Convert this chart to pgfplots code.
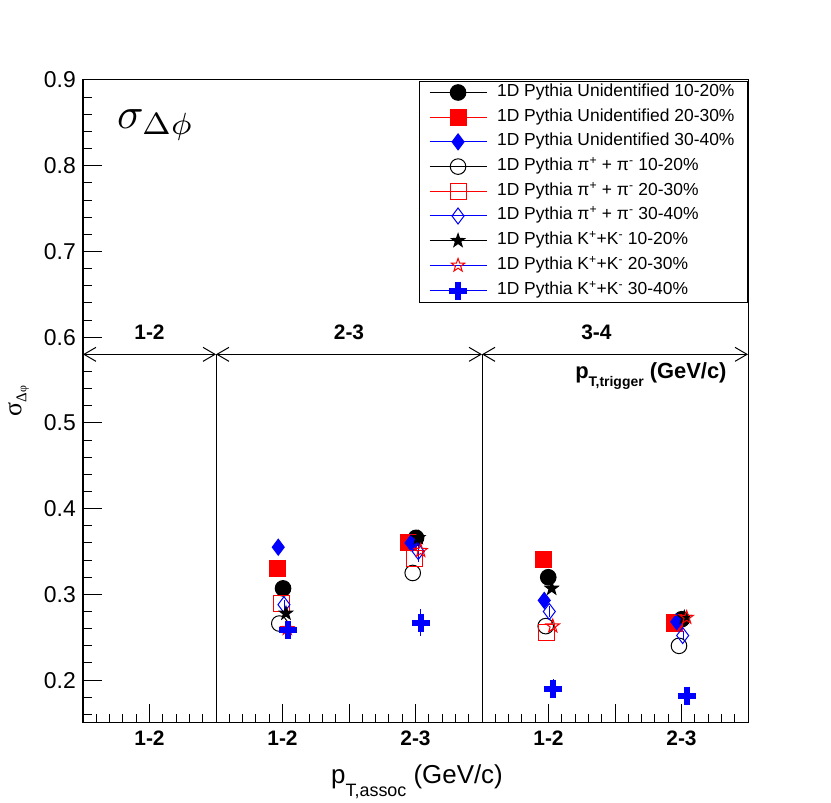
\documentclass[border=0pt]{standalone}
\usepackage[no-math]{fontspec}
\setmainfont{Liberation Sans}
\newfontfamily\grk{Liberation Serif}
\usepackage{pgfplots}
\pgfplotsset{compat=1.18}
\usetikzlibrary{arrows.meta,calc}

\pgfdeclareplotmark{fstar}{%
  \pgfpathmoveto{\pgfpointpolar{90}{\pgfplotmarksize}}%
  \pgfpathlineto{\pgfpointpolar{126}{0.4\pgfplotmarksize}}%
  \pgfpathlineto{\pgfpointpolar{162}{\pgfplotmarksize}}%
  \pgfpathlineto{\pgfpointpolar{198}{0.4\pgfplotmarksize}}%
  \pgfpathlineto{\pgfpointpolar{234}{\pgfplotmarksize}}%
  \pgfpathlineto{\pgfpointpolar{270}{0.4\pgfplotmarksize}}%
  \pgfpathlineto{\pgfpointpolar{306}{\pgfplotmarksize}}%
  \pgfpathlineto{\pgfpointpolar{342}{0.4\pgfplotmarksize}}%
  \pgfpathlineto{\pgfpointpolar{18}{\pgfplotmarksize}}%
  \pgfpathlineto{\pgfpointpolar{54}{0.4\pgfplotmarksize}}%
  \pgfpathclose
  \pgfusepathqfillstroke
}
\pgfdeclareplotmark{ostar}{%
  \pgfpathmoveto{\pgfpointpolar{90}{\pgfplotmarksize}}%
  \pgfpathlineto{\pgfpointpolar{126}{0.4\pgfplotmarksize}}%
  \pgfpathlineto{\pgfpointpolar{162}{\pgfplotmarksize}}%
  \pgfpathlineto{\pgfpointpolar{198}{0.4\pgfplotmarksize}}%
  \pgfpathlineto{\pgfpointpolar{234}{\pgfplotmarksize}}%
  \pgfpathlineto{\pgfpointpolar{270}{0.4\pgfplotmarksize}}%
  \pgfpathlineto{\pgfpointpolar{306}{\pgfplotmarksize}}%
  \pgfpathlineto{\pgfpointpolar{342}{0.4\pgfplotmarksize}}%
  \pgfpathlineto{\pgfpointpolar{18}{\pgfplotmarksize}}%
  \pgfpathlineto{\pgfpointpolar{54}{0.4\pgfplotmarksize}}%
  \pgfpathclose
  \pgfusepathqstroke
}

\begin{document}
\begin{tikzpicture}
\begin{axis}[
  name=ax, at={(0,0)}, anchor=south west,
  scale only axis, width=665bp, height=643bp,
  xmin=0, xmax=5, ymin=0.15, ymax=0.9, clip=false,
  axis line style={line width=1bp},
  tick style={line width=1bp, black},
  major tick length=19bp, minor tick length=9bp,
  tick align=inside, tick pos=left,
  xtick={0,0.5,1,1.5,2,2.5,3,3.5,4,4.5,5},
  xticklabels={,1-2,,1-2,,2-3,,1-2,,2-3,},
  minor xtick={0.1,0.2,...,4.9},
  ytick={0.2,0.3,0.4,0.5,0.6,0.7,0.8,0.9},
  yticklabels={0.2,0.3,0.4,0.5,0.6,0.7,0.8,0.9},
  minor ytick={0.16,0.18,...,0.89},
  yticklabel style={font=\fontsize{23}{26}\selectfont, inner sep=0pt, xshift=-7bp},
  xticklabel style={font=\bfseries\fontsize{21}{24}\selectfont, inner sep=0pt, yshift=-8bp},
  every axis plot/.append style={line width=1bp},
  legend image code/.code={%
    \draw[#1] (0bp,0bp) -- (57bp,0bp);
    \draw[#1, only marks] plot coordinates {(28.5bp,0bp)};
  },
  legend style={at={(1,1)}, anchor=north east, yshift=-1bp, draw=black, line width=1bp, fill=white,
    font=\fontsize{17.5}{20}\selectfont, inner xsep=10bp, inner ysep=2.5bp, row sep=7.7bp, column sep=7bp,
    nodes={inner xsep=3bp, inner ysep=0bp, text height=12.5bp, text depth=4.5bp}},
  legend cell align=left,
]
% Unidentified 10-20
\addplot[only marks, black, mark=*, mark size=7.8bp] coordinates {
  (1.504,0.307) (2.504,0.366) (3.498,0.320) (4.501,0.271)};
\addlegendentry{1D Pythia Unidentified 10-20\%}
% Unidentified 20-30
\addplot[only marks, red, mark=square*, mark size=8bp] coordinates {
  (1.461,0.330) (2.446,0.360) (3.461,0.341) (4.444,0.267)};
\addlegendentry{1D Pythia Unidentified 20-30\%}
% Unidentified 30-40
\addplot[only marks, blue, mark=diamond*, mark size=8bp] coordinates {
  (1.468,0.355) (2.466,0.360) (3.468,0.293) (4.464,0.268)};
\addlegendentry{1D Pythia Unidentified 30-40\%}
% pi 10-20
\addplot[only marks, black, mark=o, mark size=7.8bp] coordinates {
  (1.476,0.266) (2.479,0.325) (3.479,0.263) (4.481,0.240)};
\addlegendentry{1D Pythia π\textsuperscript{+} + π\textsuperscript{-} 10-20\%}
% pi 20-30
\addplot[only marks, red, mark=square, mark size=8bp] coordinates {
  (1.489,0.289) (2.489,0.342) (3.486,0.256) (4.451,0.266)};
\addlegendentry{1D Pythia π\textsuperscript{+} + π\textsuperscript{-} 20-30\%}
% pi 30-40
\addplot[only marks, blue, mark=diamond, mark size=8bp,
  error bars/.cd, y dir=both, y explicit, error mark=none] coordinates {
  (1.511,0.288) +- (0,0.006) (2.521,0.350) +- (0,0.012) (3.506,0.280) +- (0,0.006) (4.509,0.252) +- (0,0.005)};
\addlegendentry{1D Pythia π\textsuperscript{+} + π\textsuperscript{-} 30-40\%}
% K 10-20
\addplot[only marks, black, mark=fstar, mark size=7bp] coordinates {
  (1.526,0.278) (2.521,0.366) (3.524,0.307) (4.521,0.273)};
\addlegendentry{1D Pythia K\textsuperscript{+}+K\textsuperscript{-} 10-20\%}
% K 20-30
\addplot[only marks, blue, mark=ostar, mark size=7bp, mark options={draw=red}] coordinates {
  (1.536,0.260) (2.539,0.351) (3.532,0.263) (4.539,0.273)};
\addlegendentry{1D Pythia K\textsuperscript{+}+K\textsuperscript{-} 20-30\%}
% K 30-40
\addplot[only marks, blue, mark=+, mark size=9bp, mark options={line width=6bp},
  error bars/.cd, y dir=both, y explicit, error mark=none] coordinates {
  (1.544,0.259) +- (0,0.010) (2.539,0.267) +- (0,0.016) (3.536,0.190) +- (0,0.011) (4.539,0.182) +- (0,0.008)};
\addlegendentry{1D Pythia K\textsuperscript{+}+K\textsuperscript{-} 30-40\%}

% trigger bins
\draw[line width=1bp] (axis cs:1,0.15) -- (axis cs:1,0.58);
\draw[line width=1bp] (axis cs:3,0.15) -- (axis cs:3,0.58);
\draw[line width=1bp, {Straight Barb[length=12bp,width=14bp]}-{Straight Barb[length=12bp,width=14bp]}] (axis cs:0,0.58) -- (axis cs:1,0.58);
\draw[line width=1bp, {Straight Barb[length=12bp,width=14bp]}-{Straight Barb[length=12bp,width=14bp]}] (axis cs:1,0.58) -- (axis cs:3,0.58);
\draw[line width=1bp, {Straight Barb[length=12bp,width=14bp]}-{Straight Barb[length=12bp,width=14bp]}] (axis cs:3,0.58) -- (axis cs:5,0.58);
\node[font=\bfseries\fontsize{21}{24}\selectfont] at (axis cs:0.5,0.606) {1-2};
\node[font=\bfseries\fontsize{21}{24}\selectfont] at (axis cs:2,0.606) {2-3};
\node[font=\bfseries\fontsize{21}{24}\selectfont] at (axis cs:3.86,0.606) {3-4};
\node[anchor=base east, inner sep=0pt, font=\bfseries\fontsize{22}{26}\selectfont] at (axis cs:4.84,0.552)
  {p\raisebox{-8bp}{\fontsize{14}{16}\selectfont T,trigger} (GeV/c)};
% title
\node[anchor=base west, inner sep=0pt, scale=4.4] at (axis cs:0.25,0.844) {$\sigma_{\Delta\phi}$};
% axis labels
\node[rotate=90, inner sep=0pt] at (rel axis cs:-0.097,0.501)
  {\grk\fontsize{26}{30}\selectfont σ\raisebox{-5bp}{\fontsize{15}{18}\selectfont Δ\fontsize{12}{14}\selectfont φ}};
\node[anchor=base east, inner sep=0pt, font=\fontsize{26}{30}\selectfont] at (axis cs:3.158,0.0797)
  {p\raisebox{-13bp}{\fontsize{18}{20}\selectfont T,assoc} (GeV/c)};
\end{axis}
\pgfresetboundingbox
\path[use as bounding box] ($(ax.south west)+(-83bp,-80bp)$) rectangle ($(ax.north east)+(83bp,80bp)$);
\end{tikzpicture}
\end{document}
